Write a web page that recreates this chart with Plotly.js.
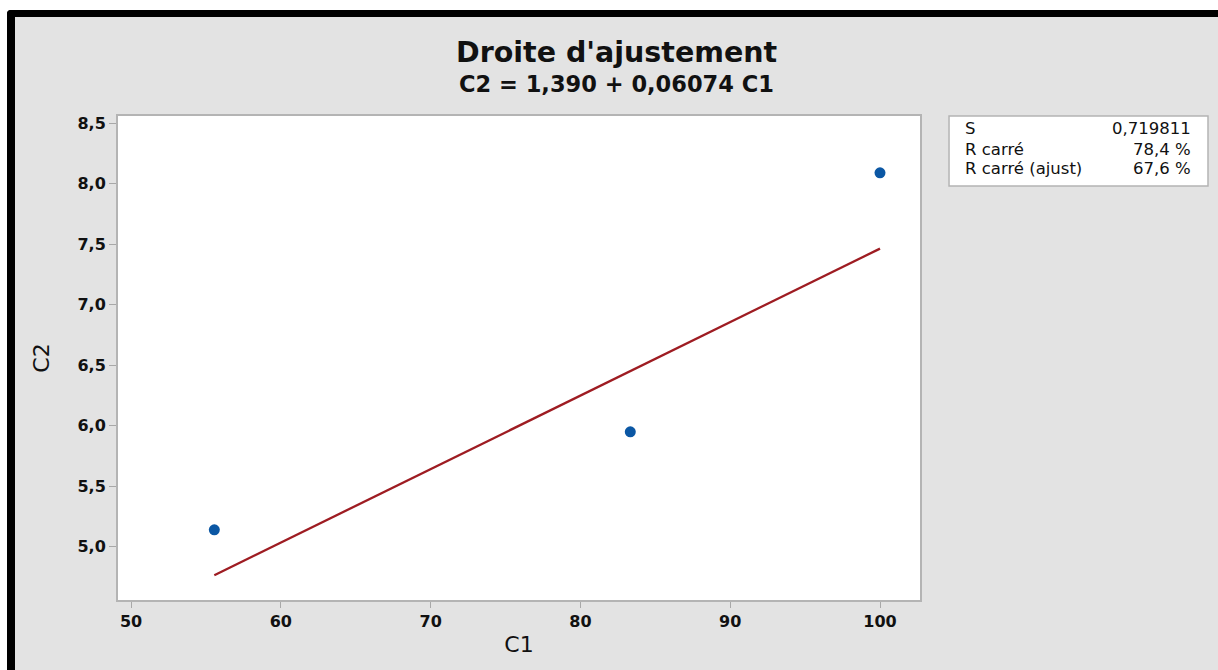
<!DOCTYPE html>
<html>
<head>
<meta charset="utf-8">
<script src="https://cdn.plot.ly/plotly-3.0.1.min.js"></script>
<style>
  html, body { margin: 0; padding: 0; background: #ffffff; width: 1218px; height: 670px; overflow: hidden; }
  #frame {
    position: absolute; left: 7px; top: 10px; width: 1203px; height: 653px;
    border-left: 8px solid #000; border-top: 7px solid #000;
    border-top-left-radius: 4px; background: #e3e3e3;
  }
  #chart { position: absolute; left: 0; top: 0; width: 1203px; height: 653px; }
</style>
</head>
<body>
<div id="frame"><div id="chart"></div></div>
<script>
// Observations
const c1 = [55.56, 83.33, 100.0];
const c2 = [5.14, 5.95, 8.09];

// Fitted line: C2 = intercept + slope * C1
const intercept = 1.390;
const slope = 0.06074;

// Summary table rows
const statLabels = ['S', 'R carré', 'R carré (ajust)'];
const statValues = ['0,719811', '78,4 %', '67,6 %'];

const yTicks = [5.0, 5.5, 6.0, 6.5, 7.0, 7.5, 8.0, 8.5];
const xTicks = [50, 60, 70, 80, 90, 100];

const fitX = [Math.min(...c1), Math.max(...c1)];
const fitY = fitX.map(x => intercept + slope * x);

const FONT = 'DejaVu Sans, Verdana, sans-serif';

const traces = [
  {
    x: fitX, y: fitY, mode: 'lines', type: 'scatter',
    line: { color: '#9e1c22', width: 2.3 },
    hoverinfo: 'skip', showlegend: false
  },
  {
    x: c1, y: c2, mode: 'markers', type: 'scatter',
    marker: { color: '#0b57a4', size: 11 },
    showlegend: false
  }
];

// Table rows in paper coordinates
const rowY = [0.9752, 0.9318, 0.8905];
const titleX = 0.622;
const annotations = [
  {
    text: "<b>Droite d'ajustement</b>", xref: 'paper', yref: 'paper',
    x: titleX, y: 1 + (99 - 36) / 484, xanchor: 'center', yanchor: 'middle',
    showarrow: false, font: { family: FONT, size: 28.5, color: '#111' }
  },
  {
    text: '<b>C2 = 1,390 + 0,06074 C1</b>', xref: 'paper', yref: 'paper',
    x: titleX, y: 1 + (99 - 67) / 484, xanchor: 'center', yanchor: 'middle',
    showarrow: false, font: { family: FONT, size: 22.5, color: '#111' }
  }
];
statLabels.forEach((lab, i) => {
  annotations.push({
    text: lab, xref: 'paper', yref: 'paper', x: 1.0536, y: rowY[i],
    xanchor: 'left', yanchor: 'middle', showarrow: false,
    font: { family: FONT, size: 16.5, color: '#111' }
  });
  annotations.push({
    text: statValues[i], xref: 'paper', yref: 'paper', x: 1.3404, y: rowY[i],
    xanchor: 'right', yanchor: 'middle', showarrow: false,
    font: { family: FONT, size: 16.5, color: '#111' }
  });
});

const layout = {
  width: 1203, height: 653,
  margin: { l: 103, r: 298, t: 99, b: 70 },
  paper_bgcolor: '#e3e3e3',
  plot_bgcolor: '#ffffff',
  separators: ', ',
  showlegend: false,
  xaxis: {
    range: [49.13, 102.67], tickvals: xTicks, ticktext: xTicks.map(String),
    showgrid: false, zeroline: false, showline: true, mirror: true,
    linecolor: '#b4b4b4', linewidth: 2,
    ticks: 'outside', ticklen: 6, tickwidth: 1, tickcolor: '#a8a8a8',
    tickfont: { family: FONT, size: 16, color: '#111', weight: 'bold' },
    title: { text: 'C1', font: { family: FONT, size: 22, color: '#111' }, standoff: 6 }
  },
  yaxis: {
    range: [4.56, 8.56], tickvals: yTicks, tickformat: '.1f',
    showgrid: false, zeroline: false, showline: true, mirror: true,
    linecolor: '#b4b4b4', linewidth: 2,
    ticks: 'outside', ticklen: 7, tickwidth: 1, tickcolor: '#a8a8a8',
    tickfont: { family: FONT, size: 16, color: '#111', weight: 'bold' },
    title: { text: 'C2', font: { family: FONT, size: 22, color: '#111' }, standoff: 22 }
  },
  shapes: [
    {
      type: 'rect', xref: 'paper', yref: 'paper',
      x0: 1.0362, x1: 1.3591, y0: 0.8554, y1: 1.0,
      fillcolor: '#ffffff', line: { color: '#b4b4b4', width: 1.5 }, layer: 'below'
    }
  ],
  annotations: annotations
};

Plotly.newPlot('chart', traces, layout, { displayModeBar: false, staticPlot: true });
</script>
</body>
</html>
